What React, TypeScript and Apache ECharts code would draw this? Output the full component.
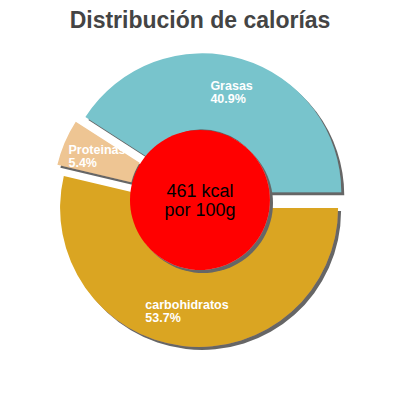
import { useEffect, useRef } from 'react'
import * as echarts from 'echarts'

const title = 'Distribución de calorías'
const categories = ['Grasas', 'Proteinas', 'carbohidratos']
const percentages = [40.9, 5.4, 53.7]
const colors = ['#78C4CC', '#EEC593', '#DAA520']
const kcal = 461
const perUnit = 'por 100g'

const font = '"Liberation Sans", Arial, sans-serif'
const shadow = { shadowColor: '#666', shadowBlur: 1, shadowOffsetX: 3, shadowOffsetY: 3 }

export default function App() {
  const ref = useRef<HTMLDivElement | null>(null)

  useEffect(() => {
    document.body.style.margin = '0'
    if (!ref.current) return
    const chart = echarts.init(ref.current, null, { renderer: 'svg' })

    const slices = categories.map((name, i) => ({
      name,
      value: percentages[i],
      selected: true,
      itemStyle: { color: colors[i], ...shadow },
    }))

    chart.setOption({
      animation: false,
      title: {
        text: title,
        left: 'center',
        top: 3,
        textStyle: { fontFamily: font, fontSize: 23, fontWeight: 'bold', color: '#444' },
      },
      series: [
        {
          type: 'pie',
          center: ['50%', '50%'],
          radius: [63, 139],
          startAngle: 0,
          clockwise: false,
          selectedMode: 'multiple',
          selectedOffset: 8,
          silent: true,
          emphasis: { disabled: true },
          select: { itemStyle: { ...shadow } },
          data: slices,
          label: {
            position: 'inside',
            color: '#fff',
            fontFamily: font,
            fontSize: 12.5,
            fontWeight: 'bold',
            lineHeight: 13,
            formatter: (p: any) => `{a|${p.name}}\n{a|${p.value}%}`,
            rich: {
              a: { align: 'left', color: '#fff', fontFamily: font, fontSize: 12.5, fontWeight: 'bold', lineHeight: 13 },
            },
          },
          labelLine: { show: false },
        },
        {
          type: 'pie',
          center: ['50%', '50%'],
          radius: [0, 70],
          silent: true,
          z: 5,
          emphasis: { disabled: true },
          data: [{ name: 'kcal', value: kcal, itemStyle: { color: '#FF0000', ...shadow } }],
          label: {
            position: 'center',
            color: '#000',
            fontFamily: font,
            fontSize: 18,
            lineHeight: 19,
            formatter: () => `${kcal} kcal\n${perUnit}`,
          },
          labelLine: { show: false },
        },
      ],
    })

    const handleResize = () => chart.resize()
    window.addEventListener('resize', handleResize)
    return () => {
      window.removeEventListener('resize', handleResize)
      chart.dispose()
    }
  }, [])

  return <div ref={ref} style={{ width: 400, height: 400 }} />
}
